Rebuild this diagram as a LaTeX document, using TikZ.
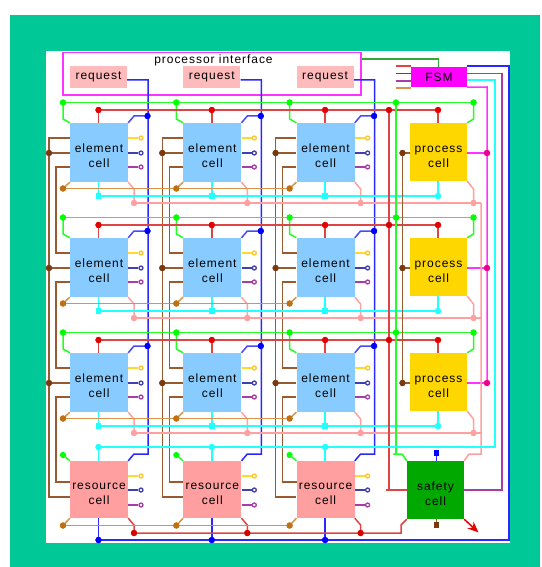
\documentclass[tikz,border=0pt]{standalone}
\usepackage{fontspec}
\setmainfont{Liberation Sans}[LetterSpace=8]
\usetikzlibrary{arrows.meta}
\definecolor{bgreen}{HTML}{00C896}
\definecolor{cblue}{HTML}{88CCFF}
\definecolor{cyell}{HTML}{FFD700}
\definecolor{cpink}{HTML}{FF9F9F}
\definecolor{reqpink}{HTML}{FFBBBB}
\definecolor{cgreen}{HTML}{00A800}
\definecolor{wgreen}{HTML}{22FF22}
\definecolor{dgreen}{HTML}{33AA33}
\definecolor{wred}{HTML}{DD4444}
\definecolor{wblue}{HTML}{2828FF}
\definecolor{wbrown}{HTML}{9A5A30}
\definecolor{dbrown}{HTML}{7A3A10}
\definecolor{worange}{HTML}{D8924A}
\definecolor{dorange}{HTML}{C07010}
\definecolor{wpink}{HTML}{FFA0A0}
\definecolor{wcyan}{HTML}{22FFFF}
\definecolor{wpurple}{HTML}{A83CA8}
\definecolor{wnavy}{HTML}{4040B0}
\definecolor{wyellow}{HTML}{FFD830}
\definecolor{wmag}{HTML}{FF33FF}
\definecolor{fsmmag}{HTML}{FF00FF}
\tikzset{
  wire/.style={line width=1.5pt},
  cellbox/.style={draw=none,inner sep=0pt,align=center,font=\fontsize{12}{15}\selectfont},
  ecell/.style={cellbox,fill=cblue,minimum width=58pt,minimum height=59pt},
  rcell/.style={cellbox,fill=cpink,minimum width=58pt,minimum height=57pt},
  pcell/.style={cellbox,fill=cyell,minimum width=57pt,minimum height=58pt},
  scell/.style={cellbox,fill=cgreen,minimum width=57pt,minimum height=58pt},
  req/.style={fill=reqpink,inner sep=0pt,minimum width=57pt,minimum height=22pt,font=\fontsize{12}{15}\selectfont},
  dot/.style={circle,inner sep=0pt,minimum size=6.2pt,fill=#1},
  sq/.style={rectangle,inner sep=0pt,minimum size=5.8pt,fill=#1},
  port/.style={circle,inner sep=0pt,minimum size=4pt,draw=#1,line width=1.3pt,fill=white},
}
\newcommand{\tl}{\rule{0pt}{16pt}}
\begin{document}
\begin{tikzpicture}[x=1pt,y=-1pt]
\useasboundingbox (0,0) rectangle (541,567);
\fill[white] (0,0) rectangle (541,567);
\fill[bgreen] (10,15) rectangle (540,567);
\fill[white] (46,51) rectangle (510,543);
% processor interface
\node[draw=wmag,line width=1.5pt,inner sep=0pt,minimum width=298pt,minimum height=42.5pt] (pi) at (212.2,73.7) {};
\node[font=\fontsize{12}{15}\selectfont,inner sep=0pt] (pilabel) at (213.5,60) {processor interface};
\node[fill=fsmmag,inner sep=0pt,minimum width=56pt,minimum height=20pt,font=\fontsize{12}{15}\selectfont] (fsm) at (439,77) {FSM};
% process cells, safety
\foreach \r in {0,1,2}{
  \pgfmathsetmacro\Y{123+115*\r}
  \node[pcell] (p\r) at (438.5,\Y+29) {\tl process\\cell};
  \node[dot=red!90!black] (pr\r) at (438,\Y-13) {};
  \node[dot=green] (pg\r) at (473.5,\Y-20.5) {};
  \node[dot=dbrown] (pb\r) at (402.5,\Y+30) {};
  \node[dot=magenta] (pm\r) at (487,\Y+30) {};
  \node[dot=wcyan] (pc\r) at (438,\Y+73) {};
  \node[dot=wpink] (pp\r) at (473.5,\Y+80) {};
  \node[dot=green] (vg\r) at (396,\Y-20.5) {};
  \node[dot=red!85!black] (vr\r) at (389,\Y-13) {};
  \coordinate (pgk\r) at (473.5,\Y-4);
  \coordinate (ppk\r) at (473.5,\Y+66);
  \coordinate (pe\r) at (481,\Y+80);
  \draw[wire,wred] (pr\r) -- (p\r.north -| pr\r);
  \draw[wire,wgreen] (pg\r.center) -- (pgk\r) -- (p\r.north east);
  \draw[wire,wbrown] (pb\r.center) -- (p\r.west |- pb\r);
  \draw[wire,wmag] (p\r.east |- pm\r) -- (pm\r.center);
  \draw[wire,wcyan] (p\r.south -| pc\r) -- (pc\r.center);
  \draw[wire,wpink] (p\r.south east) -- (ppk\r) -- (pp\r.center);
}
\node[scell] (saf) at (435.5,490) {\tl safety\\cell};
\node[sq=blue] (sb) at (436.5,453) {};
\node[sq=dbrown] (sbr) at (436.5,525) {};
\coordinate (arrowend) at (478.5,532.5);
\draw[wire,wblue] (sb) -- (saf.north -| sb);
\draw[wire,wbrown] (sbr) -- (saf.south -| sbr);
\draw[line width=1.5pt,red!90!black,-{Stealth[length=11pt,width=9pt]}] (saf.south east) -- (arrowend);
% element and resource cells
\foreach \c in {0,1,2}{
  \pgfmathsetmacro\X{70+113.3*\c}
  \node[req] (q\c) at (\X+28.5,77) {request};
  \node[rcell] (r\c) at (\X+29,489.5) {\tl resource\\cell};
  \foreach \r in {0,1,2}{
    \pgfmathsetmacro\Y{123+115*\r}
    \node[ecell] (e\c\r) at (\X+29,\Y+29.5) {\tl element\\cell};
    \node[dot=green] (g\c\r) at (\X-7,\Y-20.5) {};
    \node[dot=red!90!black] (h\c\r) at (\X+28.5,\Y-13) {};
    \node[dot=blue] (b\c\r) at (\X+77.5,\Y-7) {};
    \node[dot=dbrown] (m\c\r) at (\X-21,\Y+30) {};
    \node[dot=dorange] (o\c\r) at (\X-7,\Y+65.5) {};
    \node[sq=wcyan] (k\c\r) at (\X+28.5,\Y+73) {};
    \node[dot=wpink] (s\c\r) at (\X+64,\Y+80) {};
    \node[port=wyellow!80!orange] (y\c\r) at (\X+71,\Y+15) {};
    \node[port=wnavy] (n\c\r) at (\X+71,\Y+30) {};
    \node[port=wpurple] (u\c\r) at (\X+71,\Y+44) {};
    \coordinate (gk\c\r) at (\X-7,\Y-4);
    \coordinate (bk\c\r) at (\X+64,\Y-7);
    \coordinate (sk\c\r) at (\X+64,\Y+66);
    \draw[wire,wgreen] (g\c\r.center) -- (gk\c\r) -- (e\c\r.north west);
    \draw[wire,wred] (h\c\r) -- (e\c\r.north -| h\c\r);
    \draw[wire,wblue!85!white] (e\c\r.north east) -- (bk\c\r) -- (b\c\r.center);
    \draw[wire,wbrown] (m\c\r.center) -- (e\c\r.west |- m\c\r);
    \draw[wire,worange] (e\c\r.south west) -- (o\c\r.center);
    \draw[wire,wcyan] (e\c\r.south -| k\c\r) -- (k\c\r.center);
    \draw[wire,wpink] (e\c\r.south east) -- (sk\c\r) -- (s\c\r.center);
    \draw[wire,wyellow] (e\c\r.east |- y\c\r) -- (y\c\r);
    \draw[wire,wnavy] (e\c\r.east |- n\c\r) -- (n\c\r);
    \draw[wire,wpurple] (e\c\r.east |- u\c\r) -- (u\c\r);
  }
  % resource cell ports
  \node[dot=green] (rg\c) at (\X-7,455) {};
  \node[dot=wcyan] (rk\c) at (\X+28.5,447) {};
  \node[dot=dorange] (ro\c) at (\X-7,525.5) {};
  \node[dot=red!85!black] (rr\c) at (\X+64,533) {};
  \node[dot=blue] (rb\c) at (\X+28.5,540) {};
  \node[port=wyellow!80!orange] (ry\c) at (\X+71,476) {};
  \node[port=wnavy] (rn\c) at (\X+71,490) {};
  \node[port=wpurple] (ru\c) at (\X+71,505) {};
  \coordinate (rsk\c) at (\X+64,525);
  \draw[wire,wgreen] (rg\c.center) -- (r\c.north west);
  \draw[wire,wcyan] (rk\c.center) -- (r\c.north -| rk\c);
  \draw[wire,worange] (r\c.south west) -- (ro\c.center);
  \draw[wire,wred] (r\c.south east) -- (rsk\c) -- (rr\c.center);
  \draw[wire,wblue] (r\c.south -| rb\c) -- (rb\c.center);
  \draw[wire,wyellow] (r\c.east |- ry\c) -- (ry\c);
  \draw[wire,wnavy] (r\c.east |- rn\c) -- (rn\c);
  \draw[wire,wpurple] (r\c.east |- ru\c) -- (ru\c);
  % request / blue vertical bus
  \coordinate (bt\c) at (\X+78,80);
  \coordinate (bl\c) at (\X+78,454);
  \coordinate (blk\c) at (\X+64,454);
  \draw[wire,wblue] (q\c.east |- bt\c) -- (bt\c) -- (bl\c) -- (blk\c) -- (r\c.north east);
  % brown outer bus
  \coordinate (ot\c) at (\X,138);
  \coordinate (otk\c) at (\X-21,138);
  \coordinate (obk\c) at (\X-21,497);
  \coordinate (ob\c) at (\X,497);
  \draw[wire,wbrown] (e\c0.west |- ot\c) -- (otk\c) -- (obk\c) -- (r\c.west |- ob\c);
  % brown inner chain
  \foreach \r/\ya/\yb in {0/167/253,1/282/368,2/397/482}{
    \coordinate (ia\c\r) at (\X-14,\ya);
    \coordinate (ib\c\r) at (\X-14,\yb);
    \draw[wire,wbrown] (e\c\r.west |- ia\c\r) -- (ia\c\r) -- (ib\c\r) -- ++(14,0);
  }
}
% horizontal buses
\foreach \r in {0,1,2}{
  \draw[wire,wgreen] (g0\r.center) -- (pg\r.center);
  \draw[wire,wred] (h0\r.center) -- (pr\r.center);
  \draw[wire,worange] (o0\r.center) -- (o2\r.center);
  \draw[wire,wcyan] (k0\r.center) -- (pc\r.center);
  \draw[wire,wpink] (s0\r.center) -- (pe\r);
}
% re-stack dots above the buses
\foreach \r in {0,1,2}{
  \foreach \c in {0,1,2}{
    \node[dot=green] at (g\c\r) {};
    \node[dot=red!90!black] at (h\c\r) {};
    \node[dot=dorange] at (o\c\r) {};
    \node[sq=wcyan] at (k\c\r) {};
    \node[dot=wpink] at (s\c\r) {};
    \node[dot=blue] at (b\c\r) {};
    \node[dot=dbrown] at (m\c\r) {};
  }
  \node[dot=green] at (pg\r) {};
  \node[dot=red!90!black] at (pr\r) {};
  \node[dot=wcyan] at (pc\r) {};
  \node[dot=wpink] at (pp\r) {};
}
% right-hand verticals
\coordinate (sgk) at (402,454);
\coordinate (sgl) at (393,454);
\draw[wire,wgreen] (vg0.center) -- (396,454);
\draw[wire,wgreen] (sgl) -- (sgk) -- (saf.north west);
\coordinate (srl) at (385.5,490);
\draw[wire,wred] (vr0.center) -- (389,490);
\draw[wire,wred] (srl) -- (saf.west |- srl);
\draw[wire,wbrown] (pb0.center) -- (pb2.center);
\coordinate (skp) at (469,454);
\draw[wire,wpink] (pe0) -- (481,454) -- (skp) -- (saf.north east);
\coordinate (rbus) at (401,533);
\coordinate (rbusk) at (401,525);
\draw[wire,wred] (rr0.center) -- (rbus) -- (rbusk) -- (saf.south west);
\foreach \c in {0,1,2}{\node[dot=red!85!black] at (rr\c) {};}
\foreach \r in {0,1,2}{\node[dot=green] at (vg\r) {}; \node[dot=red!85!black] at (vr\r) {};\node[dot=dbrown] at (pb\r) {};}
\draw[wire,worange] (ro0.center) -- (ro2.center);
\foreach \c in {0,1,2}{\node[dot=dorange] at (ro\c) {};}
% FSM connections
\draw[wire,dgreen] (pi.east |- 0,59) -- (438.5,59) -- (fsm.north -| 438.5,0);
\coordinate (fb) at (509,66);
\coordinate (fbb) at (509,540);
\draw[wire,wblue] (fsm.east |- fb) -- (fb) -- (fbb) -- (rb0.center);
\foreach \c in {0,1,2}{\node[dot=blue] at (rb\c) {};}
\coordinate (fu) at (502,73.5);
\coordinate (fub) at (502,490);
\draw[wire,wpurple] (fsm.east |- fu) -- (fu) -- (fub) -- (saf.east |- fub);
\coordinate (fc) at (495,80);
\coordinate (fcb) at (495,447);
\draw[wire,wcyan] (fsm.east |- fc) -- (fc) -- (fcb) -- (rk0.center);
\foreach \c in {0,1,2}{\node[dot=wcyan] at (rk\c) {};}
\coordinate (fm) at (487,87);
\draw[wire,wmag] (fsm.south east) -- (fm) -- (pm2.center);
\foreach \r in {0,1,2}{\node[dot=magenta] at (pm\r) {};}
\foreach \n/\y/\col in {sa/66/wred,sb/73.5/wnavy,sc/81/wpurple,sd/88/worange}{
  \coordinate (st\n) at (395.5,\y);
  \draw[wire,\col] (st\n) -- (fsm.west |- st\n);
}
\end{tikzpicture}
\end{document}
